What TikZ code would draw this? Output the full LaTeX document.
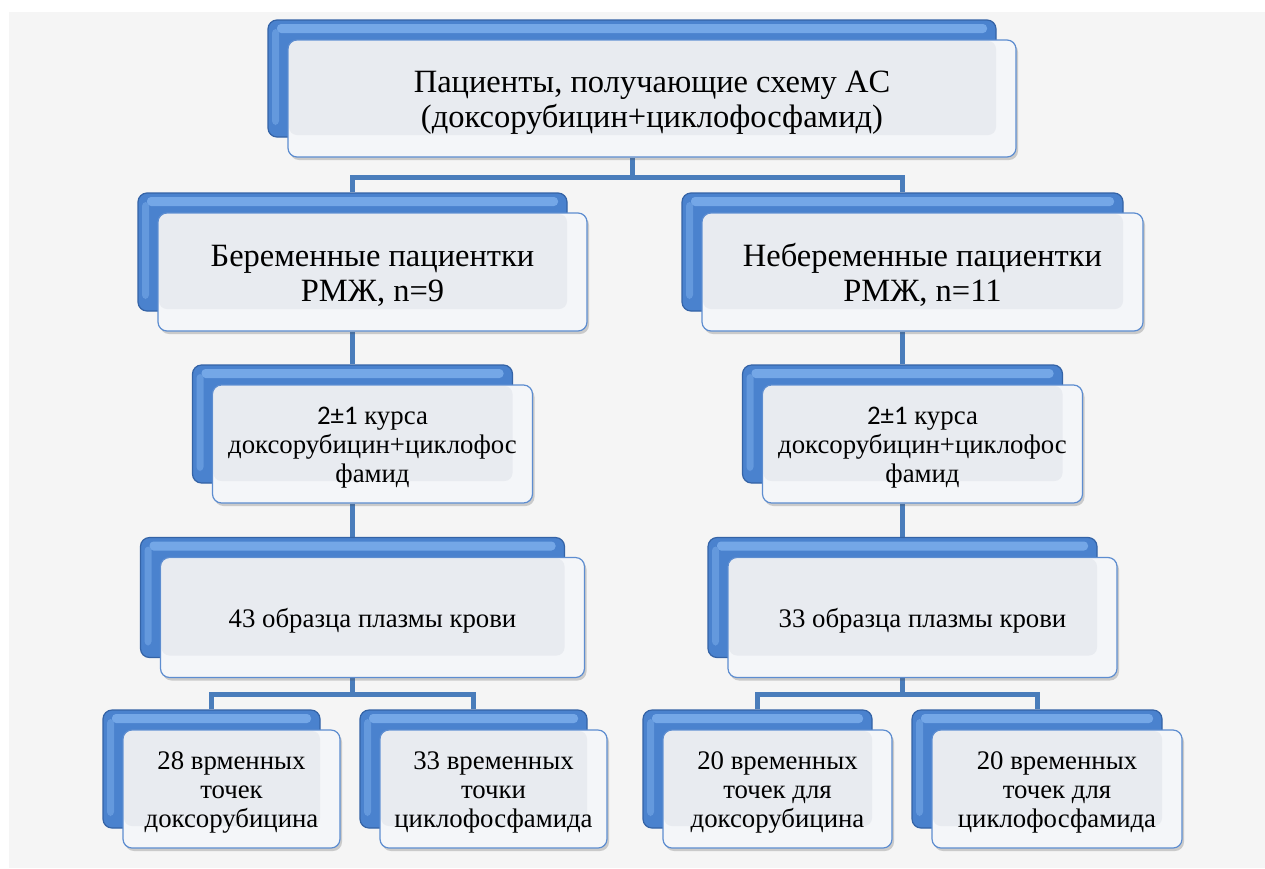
\documentclass[tikz,border=0pt]{standalone}
\usepackage{fontspec}
\setmainfont{Liberation Serif}
\newfontfamily\calibfont{Carlito}
\usetikzlibrary{calc,shadows}
\pgfdeclarelayer{bg}
\pgfdeclarelayer{lines}
\pgfsetlayers{bg,lines,main}
\definecolor{bgc}{HTML}{F5F5F5}
\definecolor{bluem}{HTML}{4A82CE}
\definecolor{bluel}{HTML}{8ABBF4}
\definecolor{blued}{HTML}{3463A6}
\definecolor{frontb}{HTML}{5D8DD0}
\definecolor{frontin}{HTML}{E8EBF0}
\definecolor{frontout}{HTML}{F4F6F9}
\definecolor{connc}{HTML}{4A7DBB}
\tikzset{
  backbox/.style={rectangle, rounded corners=9pt, draw=blued, line width=1.2pt,
    fill=bluem, inner sep=0pt,
    path picture={
      \fill[bluel!65!bluem, rounded corners=4pt]
        ([shift={(9pt,-4pt)}]path picture bounding box.north west) rectangle
        ([shift={(-9pt,-13pt)}]path picture bounding box.north east);
      \fill[bluel!40!bluem, rounded corners=4pt]
        ([shift={(4pt,-9pt)}]path picture bounding box.north west) rectangle
        ([shift={(11pt,12pt)}]path picture bounding box.south west);
    }},
  frontbox/.style={rectangle, rounded corners=9pt, draw=frontb, line width=1.2pt,
    fill=frontout, align=center, inner sep=0pt,
    drop shadow={shadow xshift=2pt, shadow yshift=-3pt, opacity=0.25, fill=black!70},
    path picture={
      \fill[frontin, rounded corners=8pt]
        ([shift={(1pt,-1pt)}]path picture bounding box.north west) rectangle
        ([shift={(-20pt,22pt)}]path picture bounding box.south east);
    }},
  conn/.style={draw=connc, line width=5pt},
  bigt/.style={font=\fontsize{32.5}{35}\selectfont},
  smt/.style={font=\fontsize{26.8}{29}\selectfont},
}
\newcommand\topstrut{\rule{0pt}{0.95em}}
\newcommand\botstrut{\rule[-0.216em]{0pt}{0pt}}
% #1 name, #2 cx, #3 cy (back box), #4 width, #5 height, #6 text style, #7 text
\newcommand\elembox[7]{%
  \node[backbox, minimum width=#4pt, minimum height=#5pt] (b#1) at (#2,#3) {};
  \node[frontbox, #6, minimum width=#4pt, minimum height=#5pt] (f#1)
    at ($(b#1.center)+(20,20)$) {\topstrut#7\botstrut};
}
\begin{document}
\begin{tikzpicture}[x=1pt, y=-1pt]
\useasboundingbox (0,0) rectangle (1265,868);
\begin{pgfonlayer}{bg}
  \fill[bgc] (9,12) rectangle (1265,868);
\end{pgfonlayer}

\elembox{0}{632}{78.5}{728}{117}{bigt}{Пациенты, получающие схему AC\\(доксорубицин+циклофосфамид)}
\elembox{1}{352.5}{252}{429}{118}{bigt}{Беременные пациентки\\РМЖ, n=9}
\elembox{2}{902.5}{252}{441}{118}{bigt}{Небеременные пациентки\\РМЖ, n=11}
\elembox{3}{352.5}{424}{320}{118}{smt}{{\calibfont 2±1} курса\\доксорубицин+циклофос\\фамид}
\elembox{4}{902.5}{424}{320}{118}{smt}{{\calibfont 2±1} курса\\доксорубицин+циклофос\\фамид}
\elembox{5}{352.5}{597.5}{424}{120}{smt}{43 образца плазмы крови}
\elembox{6}{902.5}{597.5}{389}{120}{smt}{33 образца плазмы крови}
\elembox{7}{211.5}{769}{217}{118}{smt}{28 врменных\\точек\\доксорубицина}
\elembox{8}{473.5}{769}{227}{118}{smt}{33 временных\\точки\\циклофосфамида}
\elembox{9}{757.5}{769}{229}{118}{smt}{20 временных\\точек для\\доксорубицина}
\elembox{10}{1037}{769}{250}{118}{smt}{20 временных\\точек для\\циклофосфамида}

\begin{pgfonlayer}{lines}
  \coordinate (y0) at (0,177);
  \coordinate (y1) at (0,694);
  \coordinate (j0) at (b0.center |- y0);
  \coordinate (j1) at (b5.center |- y1);
  \coordinate (j2) at (b6.center |- y1);
  \draw[conn] (b0.center |- f0.south) -- (j0);
  \draw[conn] (b1.north) |- (j0) -| (b2.north);
  \draw[conn] (b3.north |- f1.south) -- (b3.north);
  \draw[conn] (b4.north |- f2.south) -- (b4.north);
  \draw[conn] (b5.north |- f3.south) -- (b5.north);
  \draw[conn] (b6.north |- f4.south) -- (b6.north);
  \draw[conn] (b5.center |- f5.south) -- (j1);
  \draw[conn] (b7.north) |- (j1) -| (b8.north);
  \draw[conn] (b6.center |- f6.south) -- (j2);
  \draw[conn] (b9.north) |- (j2) -| (b10.north);
\end{pgfonlayer}
\end{tikzpicture}
\end{document}
